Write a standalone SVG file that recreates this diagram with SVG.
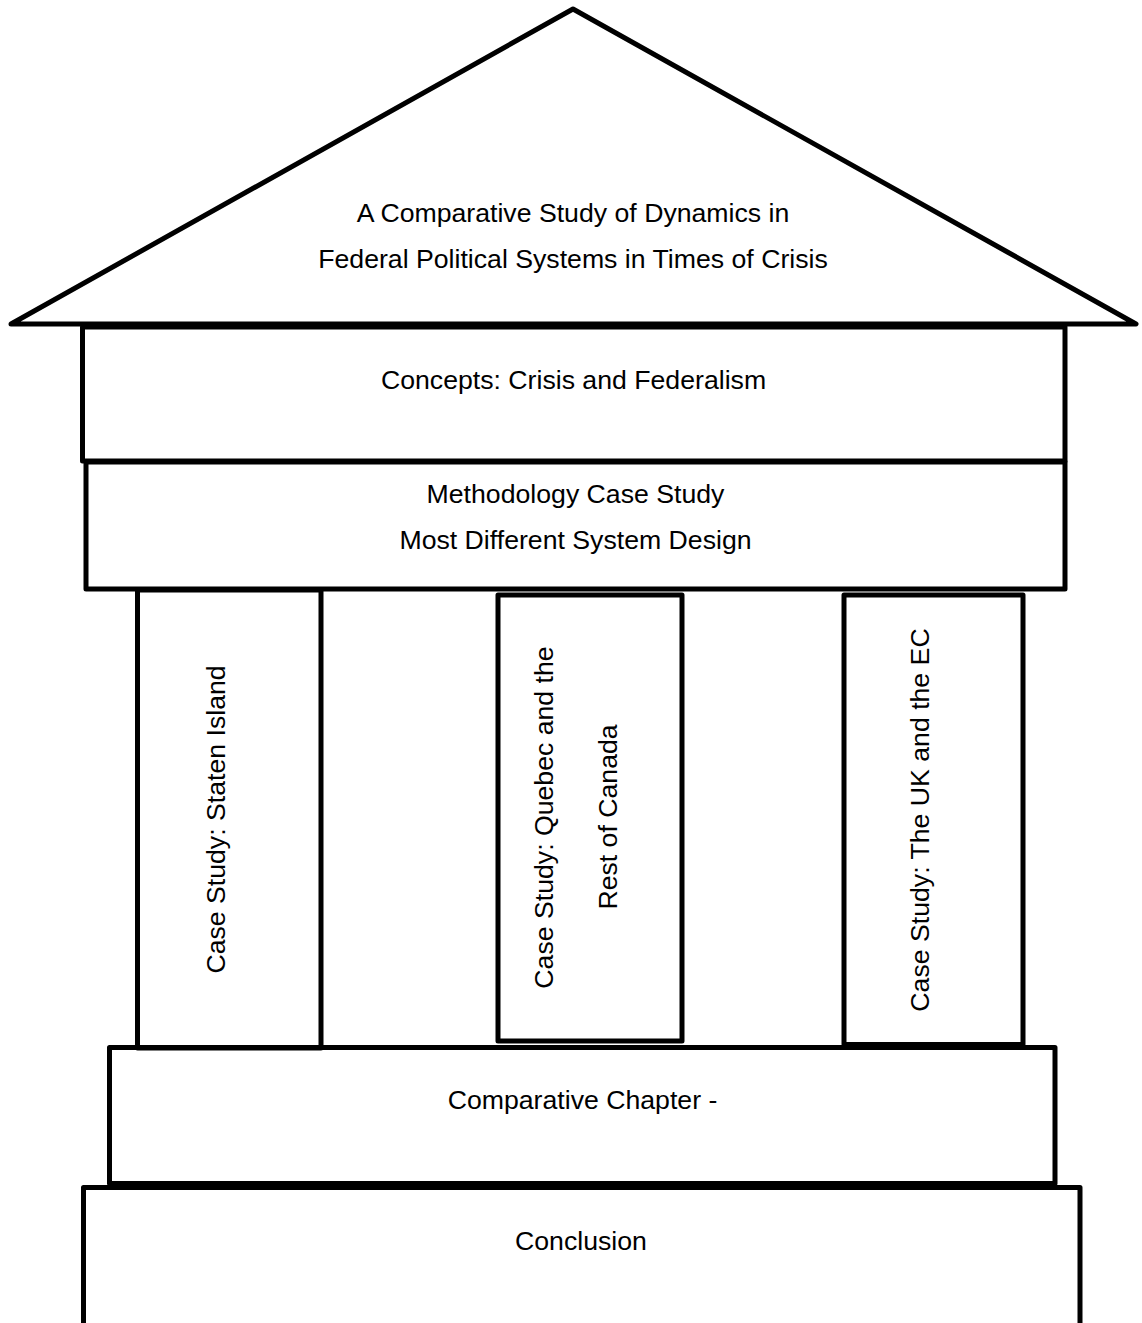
<svg xmlns="http://www.w3.org/2000/svg" width="1142" height="1323" viewBox="0 0 1142 1323">
  <style>
    .box { fill: none; stroke: #000; stroke-width: 5; stroke-linejoin: round; }
    .lbl { font-family: "Liberation Sans", Arial, sans-serif; font-size: 26.67px; fill: #000; text-anchor: middle; }
  </style>
  <rect x="0" y="0" width="1142" height="1323" fill="#fff"/>
  <g id="roof">
    <polygon class="box" points="11,324 573,9 1136,324"/>
    <text class="lbl" x="573" y="222">A Comparative Study of Dynamics in</text>
    <text class="lbl" x="573" y="268">Federal Political Systems in Times of Crisis</text>
  </g>
  <g id="concepts">
    <rect class="box" x="82.5" y="327" width="982.5" height="134"/>
    <text class="lbl" x="573.5" y="389">Concepts: Crisis and Federalism</text>
  </g>
  <g id="methodology">
    <rect class="box" x="86" y="462" width="979" height="127"/>
    <text class="lbl" x="575.5" y="503">Methodology Case Study</text>
    <text class="lbl" x="575.5" y="549">Most Different System Design</text>
  </g>
  <g id="case-staten-island">
    <rect class="box" x="137.5" y="590" width="183.5" height="458"/>
    <text class="lbl" transform="translate(225,819.5) rotate(-90)">Case Study: Staten Island</text>
  </g>
  <g id="case-quebec">
    <rect class="box" x="498" y="595" width="184" height="446"/>
    <text class="lbl" transform="translate(553,817.5) rotate(-90)">Case Study: Quebec and the</text>
    <text class="lbl" transform="translate(617,817) rotate(-90)">Rest of Canada</text>
  </g>
  <g id="case-uk-ec">
    <rect class="box" x="844" y="595" width="179" height="449.5"/>
    <text class="lbl" transform="translate(929,820) rotate(-90)">Case Study: The UK and the EC</text>
  </g>
  <g id="comparative">
    <rect class="box" x="109.5" y="1047.5" width="945.5" height="136"/>
    <text class="lbl" x="582.5" y="1109">Comparative Chapter -</text>
  </g>
  <g id="conclusion">
    <rect class="box" x="83.5" y="1187.5" width="996.5" height="145"/>
    <text class="lbl" x="581" y="1250">Conclusion</text>
  </g>
  <g id="connectors"></g>
</svg>
